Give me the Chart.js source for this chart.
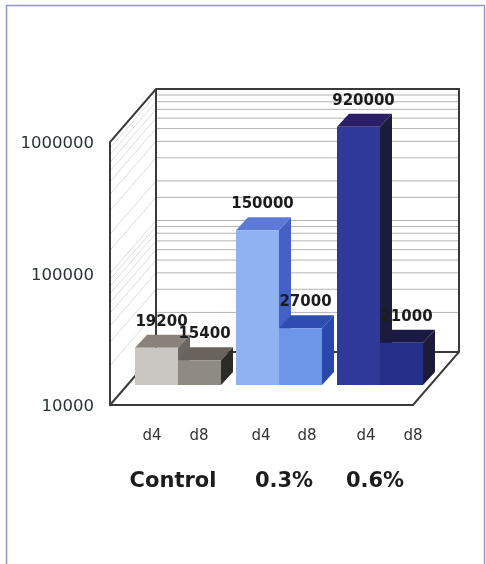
<!DOCTYPE html>
<html>
<head>
<meta charset="utf-8">
<title>Chart</title>
<script src="https://cdn.jsdelivr.net/npm/chart.js@4/dist/chart.umd.min.js"></script>
<style>
html, body { margin: 0; padding: 0; background: #fff; }
canvas { display: block; }
</style>
</head>
<body>
<canvas id="bars" width="486" height="564"></canvas>
<script>
// values
var groups = ['Control', '0.3%', '0.6%'];
var seriesNames = ['d4', 'd8'];
var d4Values = [19200, 150000, 920000];
var d8Values = [15400, 27000, 21000];
var powerTicks = [10000, 100000, 1000000];

// colours, one per group
var d4Front = ['#c9c5c1', '#8fb2f2', '#2f3a98'];
var d4Top = ['#8a817b', '#5c79d8', '#2a1f66'];
var d4Side = ['#6e6660', '#4560c4', '#1c1b3c'];
var d8Front = ['#8f8b83', '#6d95e8', '#262f88'];
var d8Top = ['#6a625d', '#2f4db0', '#1b1a44'];
var d8Side = ['#2c2c24', '#2a48ac', '#1c1b38'];
var topColors = [d4Top, d8Top];
var sideColors = [d4Side, d8Side];

// where the box planes sit relative to the plane the bars stand on
var frontPlane = { dx: -17.5, dy: 20 };
var backPlane = { dx: 28.5, dy: -33 };
var barDepth = { dx: 12, dy: -13 };

var frameColor = '#9496c8';
var boxColor = '#3a3a38';
var darkText = '#1c1c1c';

// hand placed label nudges, in bar order d4 d8 d4 d8 d4 d8
var seriesLabelNudge = [-4.5, -0.5, 3.5, 6.5, 7.5, 11.5];
var groupLabelNudge = [-5, 5, -5];

function fillFace(ctx, pts, color) {
    ctx.fillStyle = color;
    ctx.beginPath();
    ctx.moveTo(pts[0][0], pts[0][1]);
    for (var i = 1; i < pts.length; i++) ctx.lineTo(pts[i][0], pts[i][1]);
    ctx.closePath();
    ctx.fill();
}

function strokeLine(ctx, x1, y1, x2, y2) {
    ctx.beginPath();
    ctx.moveTo(x1, y1);
    ctx.lineTo(x2, y2);
    ctx.stroke();
}

// page frame, walls, floor and their grid lines
var boxPlugin = {
    id: 'box',
    beforeDatasetsDraw: function (chart) {
        var ctx = chart.ctx;
        var area = chart.chartArea;
        var y = chart.scales.y;
        var fl = area.left + frontPlane.dx, fr = area.right + frontPlane.dx;
        var bl = area.left + backPlane.dx, br = area.right + backPlane.dx;
        var topPx = y.getPixelForValue(y.max), basePx = y.getPixelForValue(y.min);
        ctx.save();

        ctx.strokeStyle = frameColor;
        ctx.lineWidth = 1.5;
        ctx.strokeRect(6.5, 5.5, 478, 560);

        y.ticks.forEach(function (t) {
            var p = y.getPixelForValue(t.value);
            ctx.lineWidth = 1;
            ctx.strokeStyle = '#b4b4b2';
            strokeLine(ctx, bl, p + backPlane.dy, br, p + backPlane.dy);
            ctx.strokeStyle = '#dcdcda';
            strokeLine(ctx, fl, p + frontPlane.dy, bl, p + backPlane.dy);
        });

        ctx.strokeStyle = boxColor;
        ctx.lineWidth = 2;
        ctx.lineJoin = 'miter';
        // outline of the left wall and the back wall
        ctx.beginPath();
        ctx.moveTo(fl, basePx + frontPlane.dy);
        ctx.lineTo(fl, topPx + frontPlane.dy);
        ctx.lineTo(bl, topPx + backPlane.dy);
        ctx.lineTo(br, topPx + backPlane.dy);
        ctx.lineTo(br, basePx + backPlane.dy);
        ctx.lineTo(fr, basePx + frontPlane.dy);
        ctx.closePath();
        ctx.stroke();
        ctx.beginPath();
        ctx.moveTo(bl, topPx + backPlane.dy);
        ctx.lineTo(bl, basePx + backPlane.dy);
        ctx.lineTo(br, basePx + backPlane.dy);
        ctx.moveTo(bl, basePx + backPlane.dy);
        ctx.lineTo(fl, basePx + frontPlane.dy);
        ctx.stroke();
        ctx.restore();
    }
};

// top and side faces of every bar, left series first; the front faces come after
var depthPlugin = {
    id: 'depth',
    beforeDatasetsDraw: function (chart) {
        var ctx = chart.ctx;
        var d = barDepth;
        chart.data.datasets.forEach(function (ds, s) {
            chart.getDatasetMeta(s).data.forEach(function (bar, i) {
                var l = bar.x - bar.width / 2, r = bar.x + bar.width / 2;
                fillFace(ctx, [[l, bar.y], [l + d.dx, bar.y + d.dy], [r + d.dx, bar.y + d.dy], [r, bar.y]], topColors[s][i]);
                fillFace(ctx, [[r, bar.y], [r + d.dx, bar.y + d.dy], [r + d.dx, bar.base + d.dy], [r, bar.base]], sideColors[s][i]);
            });
        });
    }
};

// value labels over the bars, then the two rows of labels under the box
var labelPlugin = {
    id: 'labels',
    afterDatasetsDraw: function (chart) {
        var ctx = chart.ctx;
        var area = chart.chartArea;
        ctx.save();
        ctx.textAlign = 'center';
        ctx.textBaseline = 'middle';
        ctx.fillStyle = darkText;

        ctx.font = 'bold 15px "DejaVu Sans"';
        chart.data.datasets.forEach(function (ds, s) {
            chart.getDatasetMeta(s).data.forEach(function (bar, i) {
                ctx.fillText(String(ds.data[i]), bar.x + 5, bar.y - 26);
            });
        });

        ctx.font = '15px "DejaVu Sans"';
        ctx.fillStyle = '#333';
        groups.forEach(function (g, i) {
            seriesNames.forEach(function (name, s) {
                var bar = chart.getDatasetMeta(s).data[i];
                ctx.fillText(name, bar.x + seriesLabelNudge[i * 2 + s], area.bottom + 51);
            });
        });

        ctx.font = 'bold 21px "DejaVu Sans"';
        ctx.fillStyle = darkText;
        groups.forEach(function (g, i) {
            var center = chart.scales.x.getPixelForValue(i);
            ctx.fillText(g, center + groupLabelNudge[i], area.bottom + 97);
        });
        ctx.restore();
    }
};

new Chart(document.getElementById('bars'), {
    type: 'bar',
    data: {
        labels: groups,
        datasets: [
            { label: seriesNames[0], data: d4Values, backgroundColor: d4Front },
            { label: seriesNames[1], data: d8Values, backgroundColor: d8Front }
        ]
    },
    options: {
        responsive: false,
        animation: false,
        layout: { padding: { left: 0, right: 55.5, top: 122, bottom: 179 } },
        categoryPercentage: 86 / 101,
        barPercentage: 1,
        plugins: { legend: { display: false }, tooltip: { enabled: false } },
        scales: {
            x: {
                display: false
            },
            y: {
                type: 'logarithmic',
                min: 10000,
                max: 1000000,
                grid: { display: false, drawTicks: false },
                border: { display: false },
                afterFit: function (scale) { scale.width = 127.5; },
                ticks: {
                    autoSkip: false,
                    padding: 33.5,
                    labelOffset: 22,
                    color: '#2a3434',
                    font: { family: '"DejaVu Sans"', size: 16.5 },
                    callback: function (value) {
                        return powerTicks.indexOf(value) >= 0 ? String(value) : '';
                    }
                }
            }
        }
    },
    plugins: [boxPlugin, depthPlugin, labelPlugin]
});
</script>
</body>
</html>
